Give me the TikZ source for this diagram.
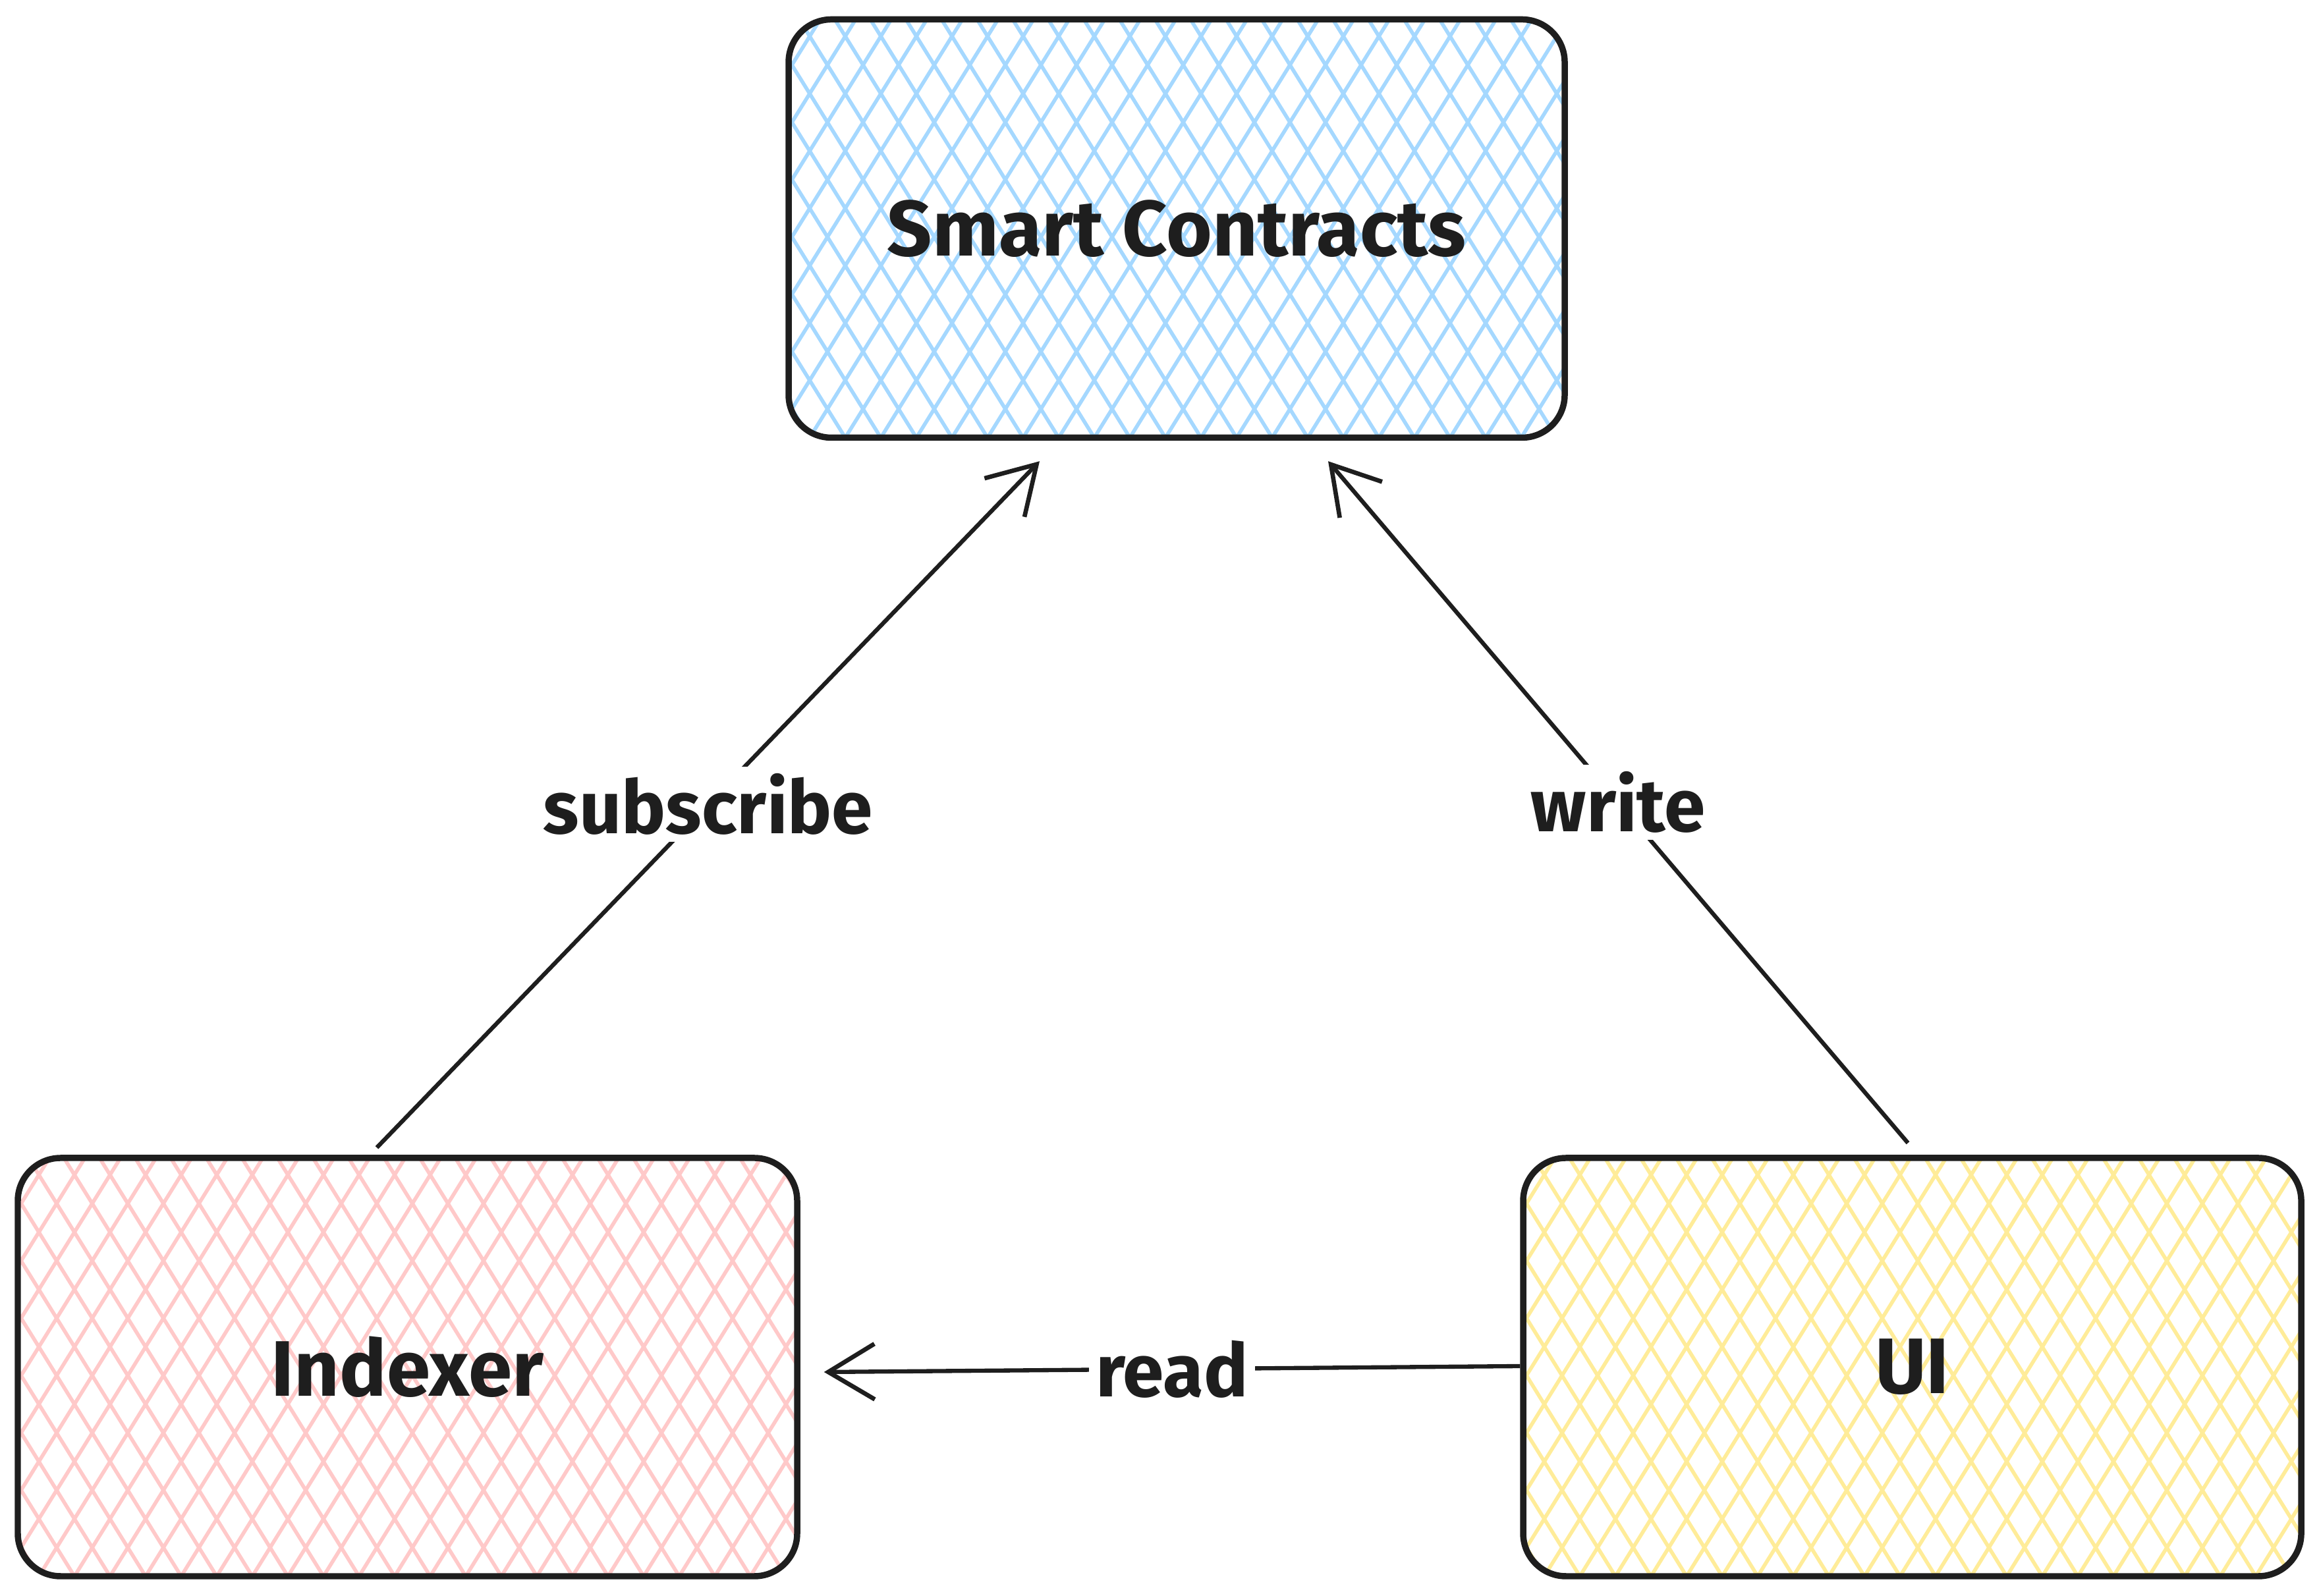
\documentclass[tikz,border=0pt]{standalone}
\usepackage{fontspec}
\setmainfont{Fira Sans}
\usetikzlibrary{arrows.meta,calc}
\definecolor{ink}{HTML}{1E1E1E}
\definecolor{hblue}{HTML}{A5D8FF}
\definecolor{hred}{HTML}{FFC9C9}
\definecolor{hyellow}{HTML}{FFEC99}
\tikzset{
  hatch/.style={path picture={
    \foreach \k in {0,...,40} {
      \draw[#1, line width=1.6pt] ($(path picture bounding box.south west)+(-4+\k*0.54,0)$) -- ++(3.97,6.4);
      \draw[#1, line width=1.6pt] ($(path picture bounding box.south west)+(-4+\k*0.54,0)$) -- ++(-3.97,6.4);
    }}},
  box/.style={draw=ink, line width=2.7pt, rounded corners=0.65cm, minimum height=6.35cm,
    inner sep=0pt, font=\fontsize{34}{40}\selectfont\bfseries, text=ink, hatch=#1},
  conn/.style={draw=ink, line width=1.8pt, -{Straight Barb[length=20pt,width=24pt,line width=1.9pt]}},
  lbl/.style={fill=white, inner sep=3pt, font=\fontsize{32}{38}\selectfont\bfseries, text=ink}
}
\begin{document}
\begin{tikzpicture}
\useasboundingbox (0,0) rectangle (35.2,24.23);
\node[box=hblue, minimum width=11.78cm] (sc) at (17.86,20.76) {Smart Contracts};
\node[box=hred, minimum width=11.83cm] (idx) at (6.185,3.475) {Indexer};
\node[box=hyellow, minimum width=11.81cm] (ui) at (29.025,3.475) {UI};
\draw[conn] ($(idx.north)+(-0.465,0.11)$) -- node[lbl] (lsub) {subscribe} ($(sc.south)+(-2.08,-0.31)$);
\draw[conn] ($(ui.north)+(-0.065,0.18)$) -- node[lbl] (lwr) {write} ($(sc.south)+(2.30,-0.31)$);
\draw[conn] ($(ui.west)+(0,0.015)$) -- node[lbl] (lrd) {read} ($(idx.east)+(0.36,-0.075)$);
\end{tikzpicture}
\end{document}
